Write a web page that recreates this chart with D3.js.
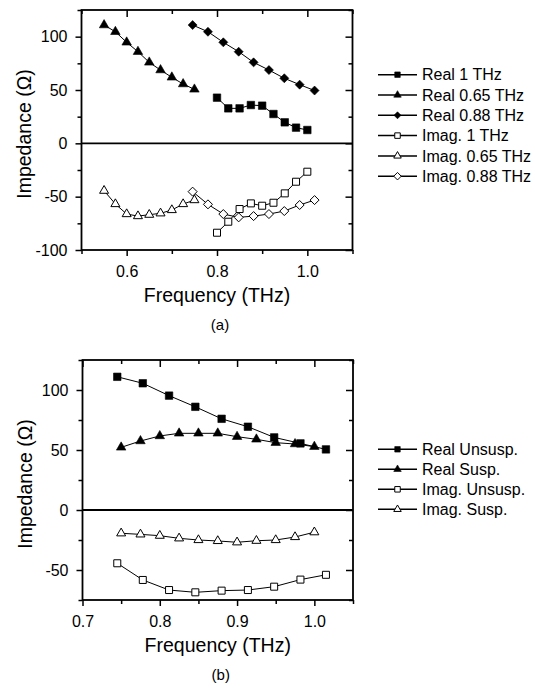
<!DOCTYPE html>
<html>
<head>
<meta charset="utf-8">
<script src="https://cdn.jsdelivr.net/npm/d3@7"></script>
<style>
  html, body { margin: 0; padding: 0; background: #fff; }
  svg { display: block; font-family: Arial, "Liberation Sans", sans-serif; }
</style>
</head>
<body>
<svg id="chart" width="535" height="688"></svg>
<script>
// Two stacked impedance-vs-frequency panels, Origin style: framed axes,
// ticks outside on bottom/left and inside on top/right, bold zero line.

// ---- panel (a) data ----
const freqA065 = [0.55, 0.575, 0.6, 0.625, 0.65, 0.675, 0.70, 0.725, 0.75];
const realA065 = [110.9, 104.6, 94.7, 85.9, 75.9, 68.7, 61.9, 55.6, 50.6];
const imagA065 = [-44.4, -56.9, -66.3, -68.2, -66.9, -65.6, -62.5, -56.9, -53.2];
const freqA1 = [0.80, 0.825, 0.85, 0.875, 0.90, 0.925, 0.95, 0.975, 1.0];
const realA1 = [42.8, 32.8, 32.8, 35.9, 35.3, 27.5, 19.7, 14.7, 12.5];
const imagA1 = [-83.8, -73.5, -61.6, -56.3, -58.5, -55.7, -46.9, -36, -26.6];
const freqA088 = [0.746, 0.780, 0.814, 0.848, 0.881, 0.915, 0.949, 0.983, 1.016];
const realA088 = [110.9, 104.6, 94.7, 85.9, 75.9, 68.7, 61, 55, 49.5];
const imagA088 = [-45.3, -57.2, -66.3, -69.4, -68.2, -66.3, -63.5, -57.8, -53.2];

// ---- panel (b) data ----
const freqUnsusp = [0.745, 0.778, 0.812, 0.846, 0.880, 0.914, 0.948, 0.982, 1.015];
const realUnsusp = [111, 105.6, 95.3, 86, 76, 69.4, 60.5, 55.5, 50.5];
const imagUnsusp = [-44.4, -58.3, -66.7, -68.6, -67.2, -66.7, -63.9, -58, -54];
const freqSusp = [0.75, 0.775, 0.80, 0.825, 0.85, 0.875, 0.90, 0.925, 0.95, 0.975, 1.0];
const realSusp = [52.2, 57.5, 61.7, 63.9, 63.9, 63.9, 61.1, 58.9, 56.1, 55, 52.8];
const imagSusp = [-19.4, -20.3, -21.4, -23.6, -25, -25.8, -26.9, -25.6, -25, -22.5, -18.5];

// ---- ticks ----
const yMajorA = [-100, -50, 0, 50, 100];
const yMinorA = [-75, -25, 25, 75, 125];
const xMajorA = [0.6, 0.8, 1.0];
const xMinorA = [0.5, 0.7, 0.9, 1.1];
const yMajorB = [-50, 0, 50, 100];
const yMinorB = [-75, -25, 25, 75, 125];
const xMajorB = [0.7, 0.8, 0.9, 1.0];
const xMinorB = [0.75, 0.85, 0.95, 1.05];

const zip = (xs, ys) => xs.map((x, i) => [x, ys[i]]);

const svg = d3.select('#chart');
const AXIS_W = 1.8;

// marker path for a shape at a given "span" in px (square side / triangle base / diamond diagonal)
function markerPath(shape, span) {
    if (shape === 'square') return d3.symbol(d3.symbolSquare, span * span)();
    if (shape === 'triangle') return d3.symbol(d3.symbolTriangle, Math.sqrt(3) / 4 * span * span)();
    // diamond: a square turned 45 degrees, same width and height
    const h = span / 2;
    return `M0,${-h}L${h},0L0,${h}L${-h},0Z`;
}

function drawMarker(g, shape, filled, span) {
    return g.append('path')
        .attr('d', markerPath(shape, span))
        .attr('fill', filled ? '#000' : '#fff')
        .attr('stroke', '#000')
        .attr('stroke-width', filled ? 0.6 : 1);
}

function drawPanel(p) {
    const x = d3.scaleLinear().domain(p.xDomain).range([p.left, p.right]);
    const y = d3.scaleLinear().domain(p.yDomain).range([p.bottom, p.top]);
    const g = svg.append('g');

    const tickStyle = (sel) => {
        sel.select('.domain').remove();
        sel.selectAll('line').attr('stroke', '#000').attr('stroke-width', 1.5);
        sel.selectAll('text').attr('font-size', 16).attr('fill', '#000')
            .attr('font-family', 'Arial, "Liberation Sans", sans-serif');
    };

    // bottom: outward, labelled
    g.append('g').attr('transform', `translate(0,${p.bottom})`)
        .call(d3.axisBottom(x).tickValues(p.xMajor).tickSize(6).tickPadding(9.5).tickFormat(d3.format('.1f')))
        .call(tickStyle);
    g.append('g').attr('transform', `translate(0,${p.bottom})`)
        .call(d3.axisBottom(x).tickValues(p.xMinor).tickSize(4).tickFormat(''))
        .call(tickStyle);
    // top: inward, no labels
    g.append('g').attr('transform', `translate(0,${p.top})`)
        .call(d3.axisTop(x).tickValues(p.xMajor).tickSize(-7).tickFormat(''))
        .call(tickStyle);
    g.append('g').attr('transform', `translate(0,${p.top})`)
        .call(d3.axisTop(x).tickValues(p.xMinor).tickSize(-4).tickFormat(''))
        .call(tickStyle);
    // left: outward, labelled with a plain hyphen for negatives
    g.append('g').attr('transform', `translate(${p.left},0)`)
        .call(d3.axisLeft(y).tickValues(p.yMajor).tickSize(6).tickPadding(8).tickFormat((d) => String(d)))
        .call(tickStyle);
    g.append('g').attr('transform', `translate(${p.left},0)`)
        .call(d3.axisLeft(y).tickValues(p.yMinor).tickSize(4).tickFormat(''))
        .call(tickStyle);
    // right: inward
    g.append('g').attr('transform', `translate(${p.right},0)`)
        .call(d3.axisRight(y).tickValues(p.yMajor).tickSize(-7).tickFormat(''))
        .call(tickStyle);
    g.append('g').attr('transform', `translate(${p.right},0)`)
        .call(d3.axisRight(y).tickValues(p.yMinor).tickSize(-4).tickFormat(''))
        .call(tickStyle);

    // frame and zero line
    g.append('rect')
        .attr('x', p.left).attr('y', p.top)
        .attr('width', p.right - p.left).attr('height', p.bottom - p.top)
        .attr('fill', 'none').attr('stroke', '#000').attr('stroke-width', AXIS_W);
    g.append('line')
        .attr('x1', p.left).attr('x2', p.right)
        .attr('y1', y(0)).attr('y2', y(0))
        .attr('stroke', '#000').attr('stroke-width', AXIS_W);

    // series: thin connecting line, then markers on top
    const line = d3.line().x((d) => x(d[0])).y((d) => y(d[1]));
    p.series.forEach((s) => {
        g.append('path').attr('d', line(s.points))
            .attr('fill', 'none').attr('stroke', '#000').attr('stroke-width', 1);
    });
    p.series.forEach((s) => {
        s.points.forEach((d) => {
            drawMarker(g, s.shape, s.filled, s.span)
                .attr('transform', `translate(${x(d[0])},${y(d[1])})`);
        });
    });

    // axis titles and caption
    g.append('text')
        .attr('transform', `translate(${p.left - 51},${(p.top + p.bottom) / 2 + 4}) rotate(-90)`)
        .attr('text-anchor', 'middle').attr('font-size', 19.5)
        .text('Impedance (\u03A9)');
    g.append('text')
        .attr('x', (p.left + p.right) / 2).attr('y', p.bottom + 52)
        .attr('text-anchor', 'middle').attr('font-size', 19.5)
        .text('Frequency (THz)');
    g.append('text')
        .attr('x', (p.left + p.right) / 2 + 3).attr('y', p.bottom + 80)
        .attr('text-anchor', 'middle').attr('font-size', 15)
        .text(p.caption);

    // legend
    const lg = g.append('g').attr('transform', `translate(378,${p.legendTop})`);
    p.series.forEach((s, i) => {
        const row = lg.append('g').attr('transform', `translate(0,${i * p.legendStep})`);
        row.append('line').attr('x1', 0).attr('x2', 39)
            .attr('stroke', '#000').attr('stroke-width', 1.5);
        drawMarker(row, s.shape, s.filled, s.legendSpan).attr('transform', 'translate(19.5,0)');
        row.append('text').attr('x', 44).attr('dy', '0.35em')
            .attr('font-size', 16).text(s.label);
    });
}

drawPanel({
    left: 81.5, right: 352.5, top: 10, bottom: 250,
    xDomain: [0.5, 1.1], yDomain: [-100, 125],
    xMajor: xMajorA, xMinor: xMinorA, yMajor: yMajorA, yMinor: yMinorA,
    caption: '(a)', legendTop: 74.7, legendStep: 20.3,
    series: [
        { label: 'Real 1 THz', points: zip(freqA1, realA1), shape: 'square', filled: true, span: 7.5, legendSpan: 5.5 },
        { label: 'Real 0.65 THz', points: zip(freqA065, realA065), shape: 'triangle', filled: true, span: 9.5, legendSpan: 7.5 },
        { label: 'Real 0.88 THz', points: zip(freqA088, realA088), shape: 'diamond', filled: true, span: 9, legendSpan: 7 },
        { label: 'Imag. 1 THz', points: zip(freqA1, imagA1), shape: 'square', filled: false, span: 7, legendSpan: 5.5 },
        { label: 'Imag. 0.65 THz', points: zip(freqA065, imagA065), shape: 'triangle', filled: false, span: 9, legendSpan: 7.5 },
        { label: 'Imag. 0.88 THz', points: zip(freqA088, imagA088), shape: 'diamond', filled: false, span: 9, legendSpan: 7.5 },
    ],
});

drawPanel({
    left: 82.5, right: 353, top: 360, bottom: 600,
    xDomain: [0.7, 1.05], yDomain: [-75, 125],
    xMajor: xMajorB, xMinor: xMinorB, yMajor: yMajorB, yMinor: yMinorB,
    caption: '(b)', legendTop: 449.3, legendStep: 20,
    series: [
        { label: 'Real Unsusp.', points: zip(freqUnsusp, realUnsusp), shape: 'square', filled: true, span: 7.5, legendSpan: 5.5 },
        { label: 'Real Susp.', points: zip(freqSusp, realSusp), shape: 'triangle', filled: true, span: 9.5, legendSpan: 7.5 },
        { label: 'Imag. Unsusp.', points: zip(freqUnsusp, imagUnsusp), shape: 'square', filled: false, span: 7, legendSpan: 5.5 },
        { label: 'Imag. Susp.', points: zip(freqSusp, imagSusp), shape: 'triangle', filled: false, span: 9, legendSpan: 7.5 },
    ],
});
</script>
</body>
</html>
